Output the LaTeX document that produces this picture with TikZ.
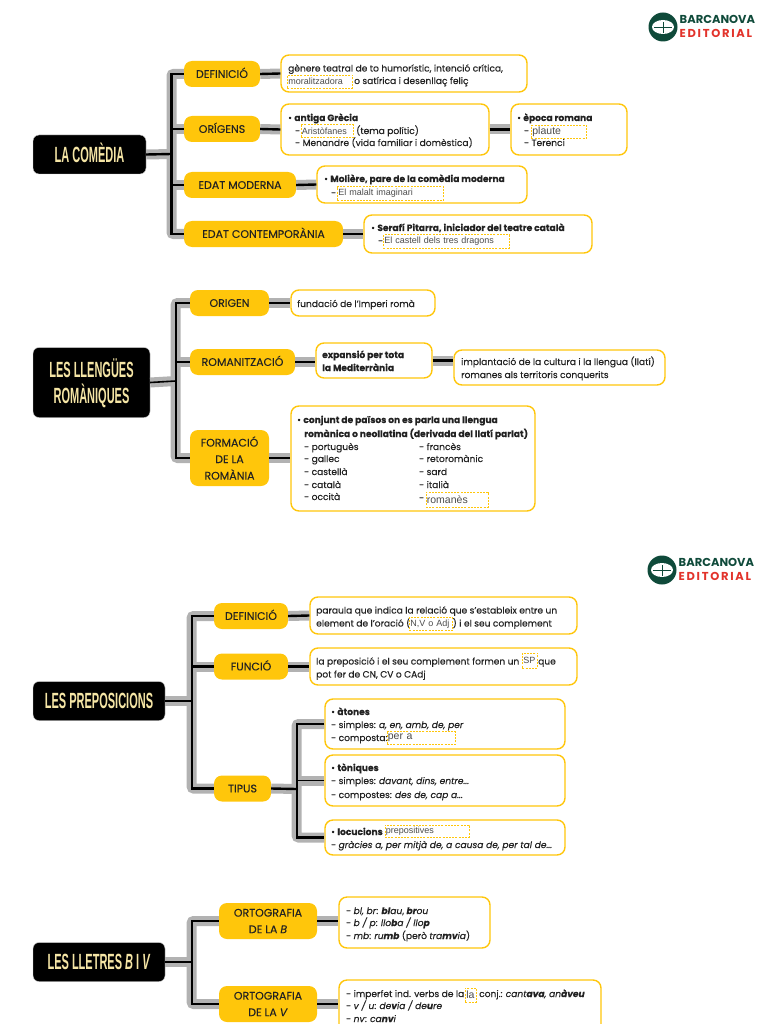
\documentclass[tikz,border=0pt]{standalone}
\usepackage{fontspec}
\usepackage{graphicx}
\setmainfont[FakeBold=0.12]{Poppins}
\newfontfamily\arialfont{Liberation Sans}
\newfontfamily\logofonta{Poppins}
\newfontfamily\logofontb[LetterSpace=15]{Poppins}
\definecolor{ambar}{HTML}{FFC60B}
\definecolor{crema}{HTML}{F5E5A5}
\definecolor{gris}{HTML}{B2B2B2}
\definecolor{verd}{HTML}{0F4A3A}
\definecolor{roig}{HTML}{E2332B}
\definecolor{tinta}{HTML}{222222}
\def\ttl#1{\raisebox{-7.9pt}[0pt][0pt]{\scalebox{0.5}[1]{\fontsize{22}{22}\selectfont\arialfont\bfseries #1}}}
\def\barcanova(#1,#2)#3{
	\fill[verd] (#1,#2) circle (14.5);
	\fill[white] (#1,#2) ellipse (11 and 7);
	\draw[verd, line width=1] (#1-9,#2+0.5) -- (#1+9,#2+0.5);
	\draw[verd, line width=0.8] (#1,#2-5) -- (#1,#2+6);
	\node[anchor=west, inner sep=0, text=verd] (#3a) at (#1+16.5,#2-7.5) {\logofonta\bfseries\fontsize{11.5}{11.5}\selectfont BARCANOVA};
	\node[anchor=west, inner sep=0, text=roig] (#3b) at (#1+16.5,#2+6.5) {\logofontb\bfseries\fontsize{11.5}{11.5}\selectfont EDITORIAL};
}
\tikzset{
	ttlbox/.style={fill=black, draw=gris!60, line width=0.4, rounded corners=6, inner sep=0, text=crema, align=center, font=\fontsize{10}{26}\selectfont},
	ybox/.style={fill=ambar, rounded corners=8, inner sep=0, text=tinta, align=center, font=\fontsize{11}{16.5}\selectfont},
	yline/.style={ybox, text height=7.8, text depth=0, minimum height=26},
	tbox/.style={draw=ambar, fill=white, line width=1.4, rounded corners=8, inner sep=0, minimum height=#1},
	txt/.style={anchor=base west, inner sep=0, text=tinta, font=\fontsize{9.1}{11}\selectfont},
	dbox/.style={anchor=west, draw=ambar, dash pattern=on 2 off 1.2, line width=0.8, fill=white, inner sep=1, text width=#1, minimum height=13.5, text=black!70, font=\arialfont\fontsize{9}{10}\selectfont},
	dboxl/.style={dbox=#1, font=\arialfont\fontsize{10.5}{11}\selectfont},
	greyln/.style={draw=gris, line width=10, rounded corners=2},
	blackln/.style={draw=black, line width=2.4},
	thinln/.style={draw=black, line width=1.6}
}
\begin{document}
\begin{tikzpicture}[x=1pt, y=-1pt]
	\useasboundingbox (0,0) rectangle (768,1024);
	\barcanova(663,27){logoa}
	\barcanova(662,570){logob}
	
	%%%%% LA COMEDIA %%%%%
	\coordinate (tra) at (171.5,154);
	\node[ttlbox, minimum width=113, minimum height=39] (com) at (89.5,154.5) {\ttl{LA COMÈDIA}};
	\node[yline, minimum width=76] (defa) at (222,74) {DEFINICIÓ};
	\node[yline, minimum width=76] (ori) at (222,129) {ORÍGENS};
	\node[yline, minimum width=112] (mod) at (240,185) {EDAT MODERNA};
	\node[yline, minimum width=159] (con) at (263.5,234) {EDAT CONTEMPORÀNIA};
	\node[tbox=37, minimum width=246] (ta) at (404,73.5) {};
	\node[tbox=51, minimum width=208] (tb) at (385,129.5) {};
	\node[tbox=51, minimum width=116] (tc) at (569,129.5) {};
	\node[tbox=37, minimum width=210] (td) at (422,184.5) {};
	\node[tbox=38, minimum width=228] (te) at (478,234) {};
	
	\node[txt] (ta1) at (288,71.5) {gènere teatral de to humorístic, intenció crítica,};
	\node[dbox=63, minimum height=13] (ta2) at (287,81.5) {moralitzadora};
	\node[txt] (ta3) at (354,84) {o satírica i desenllaç feliç};
	\node[txt] (tb1) at (288,121) {• \textbf{antiga Grècia}};
	\node[txt] (tb2) at (295,134) {-};
	\node[dbox=50] (tb3) at (300.5,131) {Aristòfanes};
	\node[txt] (tb4) at (356,134) {(tema polític)};
	\node[txt] (tb5) at (295,146) {- Menandre (vida familiar i domèstica)};
	\node[txt] (tc1) at (517,121) {• \textbf{època romana}};
	\node[txt] (tc2) at (524,134) {-};
	\node[dboxl=53] (tc3) at (531,132) {plaute};
	\node[txt] (tc4) at (524,146) {- Terenci};
	\node[txt] (td1) at (324,182) {• \textbf{Molière, pare de la comèdia moderna}};
	\node[txt] (td2) at (331,196) {-};
	\node[dbox=104] (td3) at (337,193.5) {El malalt imaginari};
	\node[txt] (te1) at (371,231) {• \textbf{Serafí Pitarra, iniciador del teatre català}};
	\node[txt] (te2) at (378,244) {-};
	\node[dbox=124] (te3) at (383,241.5) {El castell dels tres dragons};
	
	%%%%% LES LLENGUES %%%%%
	\coordinate (trb) at (175.7,381);
	\node[ttlbox, minimum width=117, minimum height=70] (rom) at (91.5,382.5) {\ttl{LES LLENGÜES}\\\ttl{ROMÀNIQUES}};
	\node[yline, minimum width=79] (org) at (229.5,303) {ORIGEN};
	\node[yline, minimum width=105] (rmz) at (242.5,362) {ROMANITZACIÓ};
	\node[ybox, minimum width=79, minimum height=56] (frm) at (229.5,458) {FORMACIÓ\\DE LA\\ROMÀNIA};
	\node[tbox=26, minimum width=144] (tf) at (363,303) {};
	\node[tbox=35, minimum width=116] (tg) at (374,360.5) {};
	\node[tbox=35, minimum width=211] (th) at (559.5,367.5) {};
	\node[tbox=105, minimum width=244] (ti) at (413,458.5) {};
	
	\node[txt] (tf1) at (297,307) {fundació de l’Imperi romà};
	\node[txt] (tg1) at (322,358) {\textbf{expansió per tota}};
	\node[txt] (tg2) at (322,371) {\textbf{la Mediterrània}};
	\node[txt] (th1) at (461,365) {implantació de la cultura i la llengua (llatí)};
	\node[txt] (th2) at (461,378) {romanes als territoris conquerits};
	\node[txt] (ti1) at (297,423) {• \textbf{conjunt de països on es parla una llengua}};
	\node[txt] (ti2) at (304,437) {\textbf{romànica o neollatina (derivada del llatí parlat)}};
	\node[txt] (ti3) at (304,450) {- portuguès};
	\node[txt] (ti4) at (304,462) {- gallec};
	\node[txt] (ti5) at (304,475) {- castellà};
	\node[txt] (ti6) at (304,488) {- català};
	\node[txt] (ti7) at (304,500) {- occità};
	\node[txt] (ti8) at (419,450) {- francès};
	\node[txt] (ti9) at (419,462) {- retoromànic};
	\node[txt] (ti10) at (419,475) {- sard};
	\node[txt] (ti11) at (419,488) {- italià};
	\node[txt] (ti12) at (419,501) {-};
	\node[dboxl=60, minimum height=15] (ti13) at (425.5,499.5) {romanès};
	
	%%%%% LES PREPOSICIONS %%%%%
	\coordinate (trc) at (191.7,701);
	\coordinate (trd) at (296.7,789);
	\node[ttlbox, minimum width=132, minimum height=39] (pre) at (99,701) {\ttl{LES PREPOSICIONS}};
	\node[yline, minimum width=74] (defc) at (251,616) {DEFINICIÓ};
	\node[yline, minimum width=74] (fun) at (251,666.5) {FUNCIÓ};
	\node[yline, minimum width=57] (tip) at (242.5,788.5) {TIPUS};
	\node[tbox=37, minimum width=267] (tj) at (443.5,615.5) {};
	\node[tbox=37, minimum width=267] (tk) at (443.5,666.5) {};
	\node[tbox=50, minimum width=240] (tl) at (445,724) {};
	\node[tbox=51, minimum width=240] (tm) at (445,780.5) {};
	\node[tbox=35, minimum width=240] (tn) at (445,837.5) {};
	
	\node[txt] (tj1) at (316,613.5) {paraula que indica la relació que s’estableix entre un};
	\node[txt] (tj2) at (316,626.5) {element de l’oració (};
	\node[dbox=41] (tj3) at (409,624) {N,V o Adj};
	\node[txt] (tj4) at (452.5,626.5) {) i el seu complement};
	\node[txt] (tk1) at (316,664.5) {la preposició i el seu complement formen un};
	\node[dbox=13, minimum height=15] (tk2) at (522,660.5) {SP};
	\node[txt] (tk3) at (538,664.5) {que};
	\node[txt] (tk4) at (316,677.5) {pot fer de CN, CV o CAdj};
	\node[txt] (tl1) at (331,715) {• \textbf{àtones}};
	\node[txt] (tl2) at (331,728) {- simples: \textit{a, en, amb, de, per}};
	\node[txt] (tl3) at (331,741) {- composta:};
	\node[dboxl=66] (tl4) at (386.5,738) {per a};
	\node[txt] (tm1) at (331,771) {• \textbf{tòniques}};
	\node[txt] (tm2) at (331,784) {- simples: \textit{davant, dins, entre...}};
	\node[txt] (tm3) at (331,798) {- compostes: \textit{des de, cap a...}};
	\node[txt] (tn1) at (331,835) {• \textbf{locucions}};
	\node[dbox=82, minimum height=12] (tn2) at (384.5,831) {prepositives};
	\node[txt] (tn3) at (331,848) {- \textit{gràcies a, per mitjà de, a causa de, per tal de...}};
	
	%%%%% LES LLETRES %%%%%
	\coordinate (tre) at (191.7,962);
	\node[ttlbox, minimum width=132, minimum height=39] (let) at (99,962) {\ttl{LES LLETRES \textit{B} I \textit{V}}};
	\node[ybox, minimum width=98, minimum height=36] (orb) at (268,921) {ORTOGRAFIA\\DE LA \textit{B}};
	\node[ybox, minimum width=98, minimum height=36] (orv) at (268,1004) {ORTOGRAFIA\\DE LA \textit{V}};
	\node[tbox=51, minimum width=151] (to) at (414.5,922.5) {};
	\node[tbox=60, minimum width=262] (tp) at (470,1010) {};
	
	\node[txt] (to1) at (346,914) {- \textit{bl, br}: \textit{\textbf{bl}au}, \textit{\textbf{br}ou}};
	\node[txt] (to2) at (346,926) {- \textit{b / p}: \textit{llo\textbf{b}a / llo\textbf{p}}};
	\node[txt] (to3) at (346,939) {- \textit{mb}: \textit{ru\textbf{mb}} (però \textit{tra\textbf{mv}ia})};
	\node[txt] (tp1) at (346,997) {- imperfet ind. verbs de la};
	\node[dboxl=9, minimum height=14] (tp2) at (465,995) {la};
	\node[txt] (tp3) at (479,997) {conj.: \textit{cant\textbf{ava}, an\textbf{àveu}}};
	\node[txt] (tp4) at (346,1009) {- \textit{v / u}: \textit{de\textbf{v}ia / de\textbf{u}re}};
	\node[txt] (tp5) at (346,1022) {- \textit{nv}: \textit{ca\textbf{nv}i}};
	
	%%%%% LINES %%%%%
	\foreach \ln/\tn in {greyln/greyln, blackln/thinln} {
		\draw[\ln] (defa.west) -| (tra) |- (con.west);
		\draw[\ln] (com.east) -- (tra);
		\draw[\ln] (ori.west) -- (ori.west -| tra);
		\draw[\ln] (mod.west) -- (mod.west -| tra);
		\draw[\ln] (defa.east) -- (ta.west);
		\draw[\ln] (ori.east) -- (tb.west);
		\draw[\ln] (tb.east) -- (tc.west);
		\draw[\ln] (mod.east) -- (td.west);
		\draw[\ln] (con.east) -- (te.west);
		
		\draw[\ln] (org.west) -| (trb) |- (frm.west);
		\draw[\tn] (rom.east) -- (trb);
		\draw[\ln] (rmz.west) -- (rmz.west -| trb);
		\draw[\ln] (org.east) -- (tf.west);
		\draw[\ln] (rmz.east) -- (rmz.east -| tg.west);
		\draw[\ln] (tg.east) -- (tg.east -| th.west);
		\draw[\ln] (frm.east) -- (ti.west |- frm.east);
		
		\draw[\ln] (defc.west) -| (trc) |- (tip.west);
		\draw[\tn] (pre.east) -- (trc);
		\draw[\ln] (fun.west) -- (fun.west -| trc);
		\draw[\ln] (defc.east) -- (tj.west);
		\draw[\ln] (fun.east) -- (tk.west);
		\draw[\ln] (tl.west) -| (trd) |- (tn.west);
		\draw[\ln] (tip.east) -- (trd);
		\draw[\tn] (tm.west) -- (tm.west -| trd);
		
		\draw[\ln] (orb.west) -| (tre) |- (orv.west);
		\draw[\tn] (let.east) -- (tre);
		\draw[\ln] (orb.east) -- (orb.east -| to.west);
		\draw[\ln] (orv.east) -- (orv.east -| tp.west);
	}
\end{tikzpicture}
\end{document}
